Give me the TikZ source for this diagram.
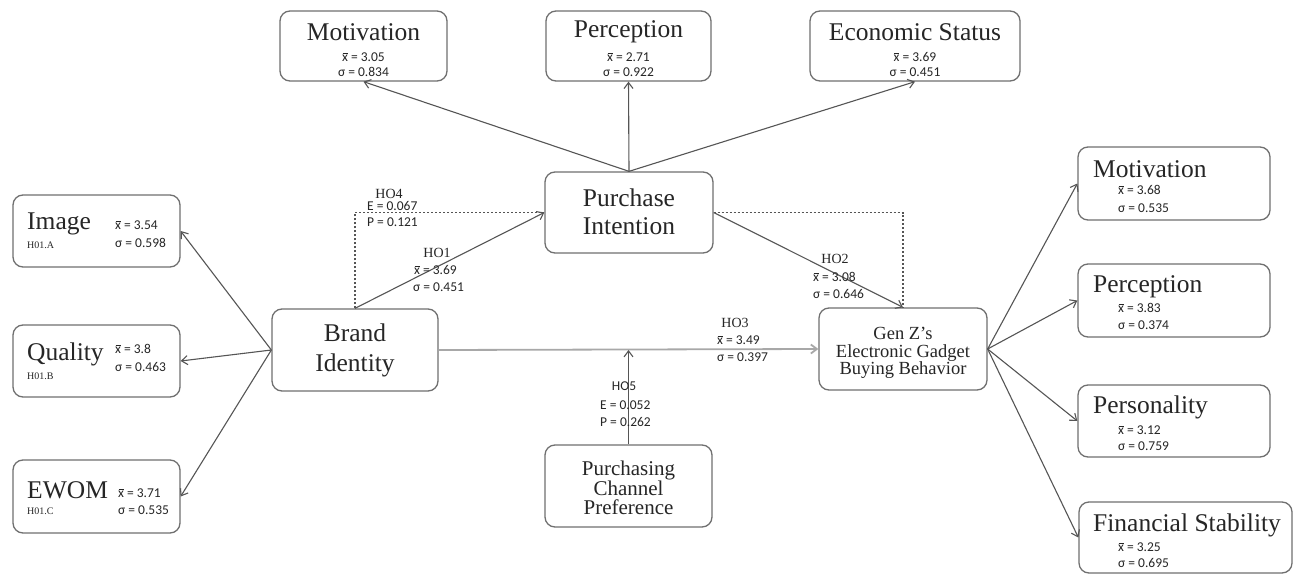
\documentclass[tikz,border=0pt]{standalone}
\usepackage{fontspec}
\setmainfont{Liberation Serif}
\newfontfamily\statfont{Carlito}
\usetikzlibrary{arrows.meta}
\definecolor{boxgray}{HTML}{707070}
\definecolor{linegray}{HTML}{555555}
\definecolor{lightline}{HTML}{A8A8A8}
\definecolor{txt}{HTML}{262626}
\newcommand\xbar{\ooalign{x\cr\hidewidth\rule[1.2ex]{0.38em}{0.06em}\hidewidth}}
\begin{document}
\begin{tikzpicture}[x=1pt,y=-1pt,
  box/.style={draw=boxgray, line width=1.3pt, rounded corners=10pt, inner sep=0pt, fill=white},
  ttl/.style={font=\fontsize{25.5}{29}\selectfont, text=txt, inner sep=0pt, align=center},
  sml/.style={font=\fontsize{10}{12}\selectfont, text=txt, inner sep=0pt},
  st/.style={font=\statfont\fontsize{13.5}{16}\selectfont, text=txt, inner sep=0pt},
  hl/.style={font=\fontsize{14}{16}\selectfont, text=txt, inner sep=0pt},
  conn/.style={draw=linegray, line width=1.1pt, -{Straight Barb[length=6pt,width=9pt]}},
  dot/.style={draw=linegray, line width=1.3pt, dash pattern=on 2pt off 2pt}]
\useasboundingbox (0,0) rectangle (1295,575);
\fill[white] (0,0) rectangle (1295,575);

% ---- boxes ----
\node[box, minimum width=167pt, minimum height=70pt] (tmot) at (363.5,46) {};
\node[box, minimum width=165pt, minimum height=70pt] (tper) at (628.5,46) {};
\node[box, minimum width=210pt, minimum height=70pt] (teco) at (915,46) {};
\node[box, minimum width=168pt, minimum height=81pt] (pi) at (629,212.5) {};
\node[box, minimum width=166pt, minimum height=82pt] (bi) at (355,350) {};
\node[box, minimum width=168pt, minimum height=82pt] (gz) at (903,349) {};
\node[box, minimum width=167pt, minimum height=82pt] (pcp) at (628.5,486) {};
\node[box, minimum width=167pt, minimum height=72pt] (img) at (96.5,231) {};
\node[box, minimum width=167pt, minimum height=72pt] (qua) at (96.5,361) {};
\node[box, minimum width=167pt, minimum height=73pt] (ewom) at (96.5,496.5) {};
\node[box, minimum width=192pt, minimum height=73pt] (rmot) at (1174,183.5) {};
\node[box, minimum width=192pt, minimum height=73pt] (rper) at (1174,300.5) {};
\node[box, minimum width=192pt, minimum height=72pt] (rpers) at (1174,421) {};
\node[box, minimum width=213pt, minimum height=71pt] (rfin) at (1185.5,537.5) {};

% ---- box texts ----
\node[ttl] (tmotT) at (363.5,32) {Motivation};
\node[st] (tmotX) at (363.5,57) {\xbar\ = 3.05};
\node[st] (tmotS) at (363.5,72) {σ = 0.834};
\node[ttl] (tperT) at (628.5,32) {Perception};
\node[st] (tperX) at (628.5,57) {\xbar\ = 2.71};
\node[st] (tperS) at (628.5,72) {σ = 0.922};
\node[ttl] (tecoT) at (915,32) {Economic Status};
\node[st] (tecoX) at (915,57) {\xbar\ = 3.69};
\node[st] (tecoS) at (915,72) {σ = 0.451};

\node[ttl, font=\fontsize{25.5}{28}\selectfont] (piT) at (629,212) {Purchase\\Intention};
\node[ttl, font=\fontsize{25.5}{30}\selectfont] (biT) at (355,350) {Brand\\Identity};
\node[ttl, font=\fontsize{18.5}{17.5}\selectfont] (gzT) at (903,353) {Gen Z’s\\Electronic Gadget\\Buying Behavior};
\node[ttl, font=\fontsize{21}{19.5}\selectfont] (pcpT) at (628.5,488) {Purchasing\\Channel\\Preference};

\node[ttl, anchor=west] (imgT) at (27,224) {Image};
\node[sml, anchor=west] (imgH) at (27,245) {H01.A};
\node[st, anchor=west] (imgX) at (115,225) {\xbar\ = 3.54};
\node[st, anchor=west] (imgS) at (115,243) {σ = 0.598};

\node[ttl, anchor=west] (quaT) at (27,354) {Quality};
\node[sml, anchor=west] (quaH) at (27,376) {H01.B};
\node[st, anchor=west] (quaX) at (115,349) {\xbar\ = 3.8};
\node[st, anchor=west] (quaS) at (115,367) {σ = 0.463};

\node[ttl, anchor=west] (ewomT) at (27,490) {EWOM};
\node[sml, anchor=west] (ewomH) at (27,511) {H01.C};
\node[st, anchor=west] (ewomX) at (118,493) {\xbar\ = 3.71};
\node[st, anchor=west] (ewomS) at (118,510) {σ = 0.535};

\node[ttl, anchor=west] (rmotT) at (1093,169) {Motivation};
\node[st, anchor=west] (rmotX) at (1118,190) {\xbar\ = 3.68};
\node[st, anchor=west] (rmotS) at (1118,208) {σ = 0.535};
\node[ttl, anchor=west] (rperT) at (1093,287) {Perception};
\node[st, anchor=west] (rperX) at (1118,308) {\xbar\ = 3.83};
\node[st, anchor=west] (rperS) at (1118,325) {σ = 0.374};
\node[ttl, anchor=west] (rpersT) at (1093,407) {Personality};
\node[st, anchor=west] (rpersX) at (1118,430) {\xbar\ = 3.12};
\node[st, anchor=west] (rpersS) at (1118,446) {σ = 0.759};
\node[ttl, anchor=west] (rfinT) at (1093,525) {Financial Stability};
\node[st, anchor=west] (rfinX) at (1118,547) {\xbar\ = 3.25};
\node[st, anchor=west] (rfinS) at (1118,563) {σ = 0.695};

% ---- connectors ----
\draw[conn] (pi.north) -- (tmot.south);
\draw[conn] (pi.north) -- (tper.south);
\draw[conn] (pi.north) -- (teco.south);
\draw[conn] (bi.west) -- (img.east);
\draw[conn] (bi.west) -- (qua.east);
\draw[conn] (bi.west) -- (ewom.east);
\draw[conn] (gz.east) -- (rmot.west);
\draw[conn] (gz.east) -- (rper.west);
\draw[conn] (gz.east) -- (rpers.west);
\draw[conn] (gz.east) -- (rfin.west);
\draw[dot] (bi.north) |- (pi.west);
\draw[dot] (pi.east) -| (gz.north);
\draw[conn] (bi.north) -- (pi.west);
\draw[conn] (pi.east) -- (gz.north);
\draw[conn, draw=lightline, line width=1.8pt] (bi.east) -- (gz.west);
\coordinate (j) at (pcp.north |- bi.east);
\draw[conn] (pcp.north) -- (j);

% ---- path labels ----
\node[hl] (h4) at (389,194) {HO4};
\node[st, anchor=west] (h4e) at (367,206) {E = 0.067};
\node[st, anchor=west] (h4p) at (367,222) {P = 0.121};
\node[hl] (h1) at (437,253) {HO1};
\node[st, anchor=west] (h1x) at (414,270) {\xbar\ = 3.69};
\node[st, anchor=west] (h1s) at (413,287) {σ = 0.451};
\node[hl] (h2) at (835,259) {HO2};
\node[st, anchor=west] (h2x) at (813,277) {\xbar\ = 3.08};
\node[st, anchor=west] (h2s) at (813,294) {σ = 0.646};
\node[hl] (h3) at (735,323) {HO3};
\node[st, anchor=west] (h3x) at (717,340) {\xbar\ = 3.49};
\node[st, anchor=west] (h3s) at (717,357) {σ = 0.397};
\node[st] (h5) at (624,386) {HO5};
\node[st, anchor=west] (h5e) at (600,405) {E = 0.052};
\node[st, anchor=west] (h5p) at (600,422) {P = 0.262};
\end{tikzpicture}
\end{document}
